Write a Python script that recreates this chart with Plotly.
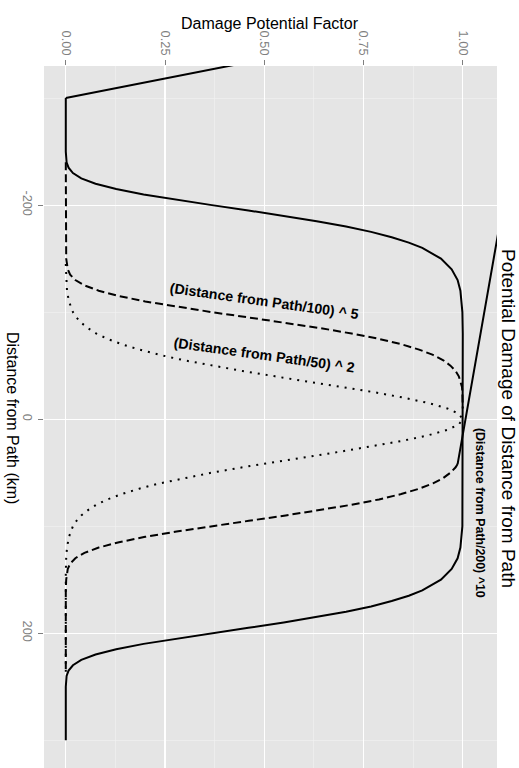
import plotly.graph_objects as go

# ---- data ----
solid_dist = [-300, -250, -240, -235, -230, -225, -220, -215, -210, -205, -200, -195, -190, -185, -180, -175,
              -170, -165, -160, -150, -140, -130, -120, -100, -80, 0,
              80, 100, 120, 130, 140, 150, 160, 165, 170, 175, 180, 185, 190, 195, 200, 205, 210, 215,
              220, 225, 230, 235, 240, 250, 300]
solid_val = [0.0, 0.0, 0.002, 0.007, 0.018, 0.039, 0.075, 0.127, 0.196, 0.278, 0.368, 0.460, 0.549, 0.632, 0.706, 0.769,
             0.821, 0.864, 0.898, 0.945, 0.972, 0.987, 0.994, 0.999, 1.0, 1.0,
             1.0, 0.999, 0.994, 0.987, 0.972, 0.945, 0.898, 0.864, 0.821, 0.769, 0.706, 0.632, 0.549, 0.460, 0.368,
             0.278, 0.196, 0.127, 0.075, 0.039, 0.018, 0.007, 0.002, 0.0, 0.0]

dashed_dist = [-240, -200, -160, -150, -140, -135, -130, -125, -120, -115, -110, -105, -100, -95, -90, -85, -80,
               -75, -70, -65, -60, -55, -50, -45, -40, -35, -30, -25, -10, None,
               42, 45, 50, 55, 60, 65, 70, 75, 80, 85, 90, 95, 100, 105, 110, 115, 120, 125, 130, 135, 140,
               150, 160, 200, 237]
dashed_val = [0.0, 0.0, 0.0, 0.001, 0.005, 0.011, 0.024, 0.047, 0.083, 0.134, 0.200, 0.279, 0.368, 0.461, 0.554,
              0.642, 0.720, 0.789, 0.845, 0.890, 0.925, 0.951, 0.969, 0.982, 0.990, 0.995, 0.998, 0.999, 1.0, None,
              0.987, 0.982, 0.969, 0.951, 0.925, 0.890, 0.845, 0.789, 0.720, 0.642, 0.554, 0.461, 0.368, 0.279,
              0.200, 0.134, 0.083, 0.047, 0.024, 0.011, 0.005, 0.001, 0.0, 0.0, 0.0]

dotted_dist = [-145, -130, -120, -110, -100, -95, -90, -85, -80, -75, -70, -65, -60, -55, -50, -45, -40, -35, -30,
               -25, -20, -15, -10, -5, 0, 5, 10, 15, 20, 25, 30, 35, 40, 45, 50, 55, 60, 65, 70, 75, 80, 85,
               90, 95, 100, 110, 120, 130, 145, 237]
dotted_val = [0.0, 0.001, 0.003, 0.008, 0.018, 0.027, 0.039, 0.056, 0.077, 0.105, 0.141, 0.185, 0.237, 0.298,
              0.368, 0.445, 0.527, 0.613, 0.698, 0.779, 0.852, 0.914, 0.961, 0.990, 1.0, 0.990, 0.961, 0.914,
              0.852, 0.779, 0.698, 0.613, 0.527, 0.445, 0.368, 0.298, 0.237, 0.185, 0.141, 0.105, 0.077, 0.056,
              0.039, 0.027, 0.018, 0.008, 0.003, 0.001, 0.0, 0.0]

connector_dist = [42, -387, -300]
connector_val = [0.987, 1.19, 0.0]

x_tickvals = [0, 0.25, 0.5, 0.75, 1.0]
x_ticktext = ["0.00", "0.25", "0.50", "0.75", "1.00"]
y_tickvals = [-200, 0, 200]
y_ticktext = ["-200", "0", "200"]

labels = ["(Distance from Path/100) ^ 5", "(Distance from Path/50) ^ 2", "(Distance from Path/200) ^10"]
label_dist = [-110, -60, 87.5]
label_val = [0.50, 0.50, 1.043]
label_angle = [8, 8, 90]
label_size = [14.2, 14.2, 12.4]

FONT = "Liberation Sans, Arial, Helvetica, sans-serif"
GREY = "#7F7F7F"

fig = go.Figure()
fig.add_trace(go.Scatter(x=solid_val, y=solid_dist, mode="lines",
                         line=dict(color="black", width=2), hoverinfo="skip"))
fig.add_trace(go.Scatter(x=dashed_val, y=dashed_dist, mode="lines", connectgaps=False,
                         line=dict(color="black", width=2, dash="8px,4px"), hoverinfo="skip"))
fig.add_trace(go.Scatter(x=dotted_val, y=dotted_dist, mode="lines",
                         line=dict(color="black", width=2, dash="2px,6px"), hoverinfo="skip"))
fig.add_trace(go.Scatter(x=connector_val, y=connector_dist, mode="lines",
                         line=dict(color="black", width=2), hoverinfo="skip"))

for t, d, v, a, s in zip(labels, label_dist, label_val, label_angle, label_size):
    fig.add_annotation(x=v, y=d, xref="x", yref="y", text=t, showarrow=False, textangle=a,
                       font=dict(family=FONT, size=s, color="black", weight="bold"))

fig.add_annotation(x=0.499, y=1.060, xref="paper", yref="paper", text="Damage Potential Factor",
                   showarrow=False, font=dict(family=FONT, size=16, color="black"),
                   xanchor="center", yanchor="middle")
fig.add_annotation(x=-0.0706, y=0.4986, xref="paper", yref="paper", text="Distance from Path (km)",
                   showarrow=False, textangle=90, font=dict(family=FONT, size=16, color="black"),
                   xanchor="center", yanchor="middle")
fig.add_annotation(x=1.0243, y=0.4986, xref="paper", yref="paper",
                   text="Potential Damage of Distance from Path",
                   showarrow=False, textangle=90, font=dict(family=FONT, size=19, color="black"),
                   xanchor="center", yanchor="middle")

fig.update_layout(
    width=519, height=768,
    margin=dict(l=44, r=22, t=66, b=0, pad=0),
    paper_bgcolor="white", plot_bgcolor="#E5E5E5",
    showlegend=False,
    hovermode=False,
    xaxis=dict(side="top", range=[-0.0549, 1.0862], tickvals=x_tickvals, ticktext=x_ticktext,
               tickangle=90, ticks="outside", ticklen=5, tickcolor=GREY, tickwidth=1,
               tickfont=dict(family=FONT, size=12.8, color=GREY),
               showgrid=True, gridcolor="white", gridwidth=1.2, zeroline=False, showline=False,
               minor=dict(dtick=0.125, tick0=0, showgrid=True, gridcolor="#F2F2F2", gridwidth=0.6, ticks="")),
    yaxis=dict(range=[326, -330], tickvals=y_tickvals, ticktext=y_ticktext,
               tickangle=90, ticks="outside", ticklen=5, tickcolor=GREY, tickwidth=1,
               tickfont=dict(family=FONT, size=12.8, color=GREY),
               showgrid=True, gridcolor="white", gridwidth=1.2, zeroline=False, showline=False,
               minor=dict(dtick=100, tick0=0, showgrid=True, gridcolor="#F2F2F2", gridwidth=0.6, ticks="")),
)

# remove the default 8px page margin so the figure sits at the window's top-left corner
fig.write_html("out.html", config={"displayModeBar": False, "staticPlot": True},
               post_script="document.body.style.margin='0px';document.body.style.overflow='hidden';")
